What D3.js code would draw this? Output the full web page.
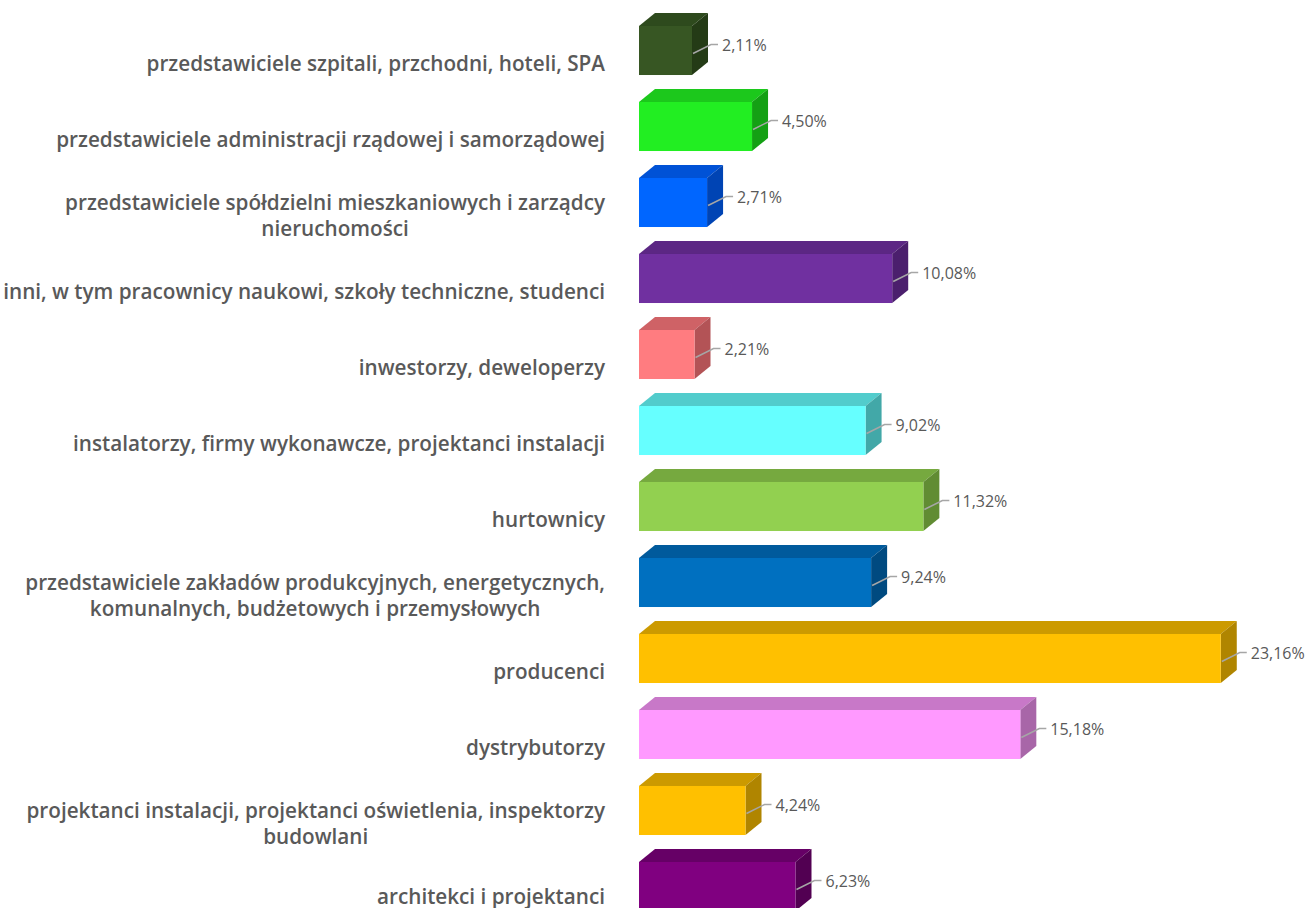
<!DOCTYPE html>
<html>
<head>
<meta charset="utf-8">
<script src="https://cdn.jsdelivr.net/npm/d3@7"></script>
<style>
  body { margin: 0; background: #fff; }
  svg { display: block; }
</style>
</head>
<body>
<div id="chart"></div>
<script>
const categories = [
  "przedstawiciele szpitali, przchodni, hoteli, SPA",
  "przedstawiciele administracji rządowej i samorządowej",
  "przedstawiciele spółdzielni mieszkaniowych i zarządcy|nieruchomości",
  "inni, w tym pracownicy naukowi, szkoły techniczne, studenci",
  "inwestorzy, deweloperzy",
  "instalatorzy, firmy wykonawcze, projektanci instalacji",
  "hurtownicy",
  "przedstawiciele zakładów produkcyjnych, energetycznych,|komunalnych, budżetowych i przemysłowych",
  "producenci",
  "dystrybutorzy",
  "projektanci instalacji, projektanci oświetlenia, inspektorzy|budowlani",
  "architekci i projektanci"
];
const values = [2.11, 4.50, 2.71, 10.08, 2.21, 9.02, 11.32, 9.24, 23.16, 15.18, 4.24, 6.23];
// front, top, side
const colors = [
  ["#375623", "#2e4a1d", "#243b16"],
  ["#22ee22", "#1cc81c", "#14a014"],
  ["#0066ff", "#0052d6", "#0044b4"],
  ["#7030a0", "#5c2784", "#4b1f6d"],
  ["#ff7c80", "#cf6266", "#b35356"],
  ["#66ffff", "#52cccc", "#42a8a8"],
  ["#92d050", "#76a93f", "#618c33"],
  ["#0070c0", "#005a9c", "#004a80"],
  ["#ffc000", "#cc9a00", "#b08500"],
  ["#ff99ff", "#c878c8", "#a866a8"],
  ["#ffc000", "#cc9a00", "#b08500"],
  ["#800080", "#660066", "#520052"]
];

const width = 1309, height = 908;
const left = 639, dx = 16, dy = 13;

const svg = d3.select("#chart").append("svg")
  .attr("width", width)
  .attr("height", height);

const x = d3.scaleLinear().domain([0, 25]).range([left, left + 628]);
const y = d3.scaleBand()
  .domain(d3.range(categories.length))
  .range([12.5, 12.5 + 76 * categories.length])
  .paddingInner(0.355)
  .paddingOuter(0.1775);

const rows = svg.selectAll("g.bar")
  .data(values)
  .enter()
  .append("g")
  .attr("class", "bar");

// top face
rows.append("path")
  .attr("d", (d, i) => {
    let t = y(i), r = x(d);
    return "M" + left + "," + t + "L" + (left + dx) + "," + (t - dy) +
      "L" + (r + dx) + "," + (t - dy) + "L" + r + "," + t + "Z";
  })
  .style("fill", (d, i) => colors[i][1]);

// side face
rows.append("path")
  .attr("d", (d, i) => {
    let t = y(i), b = y(i) + y.bandwidth(), r = x(d);
    return "M" + r + "," + t + "L" + (r + dx) + "," + (t - dy) +
      "L" + (r + dx) + "," + (b - dy) + "L" + r + "," + b + "Z";
  })
  .style("fill", (d, i) => colors[i][2]);

// front face
rows.append("rect")
  .attr("x", left)
  .attr("y", (d, i) => y(i))
  .attr("width", (d) => x(d) - left)
  .attr("height", y.bandwidth())
  .style("fill", (d, i) => colors[i][0]);

// leader lines and value labels
const fmt = (v) => v.toFixed(2).replace(".", ",") + "%";
rows.append("path")
  .attr("d", (d, i) => {
    let cy = y(i) + y.bandwidth() / 2, r = x(d), ly = cy - 6;
    return "M" + (r + 1) + "," + (cy + 3) + "L" + (r + dx + 3) + "," + ly +
      "L" + (r + 26) + "," + ly;
  })
  .style("fill", "none")
  .style("stroke", "#a6a6a6")
  .style("stroke-width", 1.5);

rows.append("text")
  .text((d) => fmt(d))
  .attr("x", (d) => x(d) + 30)
  .attr("y", (d, i) => y(i) + y.bandwidth() / 2 - 6)
  .attr("dominant-baseline", "central")
  .style("font-family", "'Open Sans', Lato, sans-serif")
  .style("font-size", "16px")
  .style("fill", "#595959");

// category labels
const lineH = 26;
const labels = svg.selectAll("text.cat")
  .data(categories)
  .enter()
  .append("text")
  .attr("class", "cat")
  .attr("text-anchor", "end")
  .style("font-family", "'Open Sans', Lato, sans-serif")
  .style("font-weight", "600")
  .style("font-size", "20.7px")
  .style("fill", "#595959");

labels.each(function(d, i) {
  let lines = d.split("|");
  let cy = y(i) + y.bandwidth() / 2 + 12;
  if (i === categories.length - 1) cy -= 3;
  let y0 = cy - (lines.length - 1) * lineH / 2;
  let el = d3.select(this);
  lines.forEach(function(line, k) {
    el.append("tspan")
      .text(line)
      .attr("x", 605)
      .attr("y", y0 + k * lineH)
      .attr("dominant-baseline", "central");
  });
});

// second lines of wrapped labels are centred under the first line
labels.each(function() {
  let spans = d3.select(this).selectAll("tspan").nodes();
  if (spans.length > 1) {
    let w0 = spans[0].getComputedTextLength();
    let mid = 605 - w0 / 2;
    for (let k = 1; k < spans.length; k++) {
      d3.select(spans[k]).attr("text-anchor", "middle").attr("x", mid);
    }
  }
});
</script>
</body>
</html>
